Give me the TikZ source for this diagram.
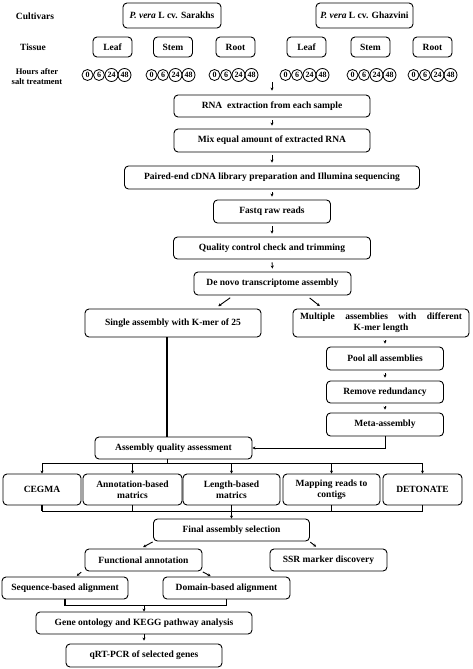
\documentclass[tikz,border=0pt]{standalone}
\usepackage{fontspec}
\setmainfont{Liberation Serif}
\usetikzlibrary{arrows.meta,calc}
\begin{document}
\begin{tikzpicture}[x=1pt,y=-1pt,
 box/.style={draw, rounded corners=4pt, line width=0.9pt, align=center, inner sep=1pt, font=\bfseries\fontsize{9.5}{11}\selectfont},
 lbl/.style={align=center, font=\bfseries\fontsize{9.5}{10.5}\selectfont},
 num/.style={draw, circle, line width=0.8pt, inner sep=0pt, font=\bfseries\fontsize{8}{8}\selectfont},
 arr/.style={line width=0.9pt, -{Stealth[length=3pt,width=3pt]}},
 ln/.style={line width=1.1pt},
 sh/.style={shorten <=3pt, shorten >=3pt}]
\useasboundingbox (0,0) rectangle (472,669);

% header labels
\node[lbl] (lcult) at (35,16) {Cultivars};
\node[lbl] (ltis) at (33,47) {Tissue};
\node[lbl, font=\bfseries\fontsize{8.5}{10}\selectfont] (lhrs) at (37,77) {Hours after\\salt treatment};

% cultivars
\node[box, minimum width=98pt, minimum height=25pt] (sar) at (172,15.5) {\textit{P. vera} L cv. Sarakhs};
\node[box, minimum width=97pt, minimum height=25pt] (gha) at (364.5,15.5) {\textit{P. vera} L cv. Ghazvini};

% tissues
\foreach \n/\x/\t in {leafa/112.5/Leaf, stema/173/Stem, roota/235.5/Root, leafb/306.5/Leaf, stemb/370.5/Stem, rootb/432.5/Root}
  \node[box, minimum width=39pt, minimum height=20pt] (\n) at (\x,47) {\t};

% hour circles
\foreach \g/\s in {a/82,b/146,c/209,d/280,e/347,f/408}{
  \node[num, minimum size=11pt] (\g0) at ({\s+5.5},75) {0};
  \node[num, minimum size=11pt] (\g6) at ({\s+17},75) {6};
  \node[num, minimum size=13pt] (\g24) at ({\s+29.5},75) {24};
  \node[num, minimum size=13pt] (\g48) at ({\s+42.5},75) {48};
}

% main chain
\node[box, minimum width=196pt, minimum height=22pt] (rna) at (272,106) {RNA\ \ extraction from each sample};
\node[box, minimum width=196pt, minimum height=23pt] (mix) at (272,140.5) {Mix equal amount of extracted RNA};
\node[box, minimum width=295pt, minimum height=23pt] (paired) at (272,177.5) {Paired-end cDNA library preparation and Illumina sequencing};
\node[box, minimum width=117pt, minimum height=23pt] (fastq) at (272,211.5) {Fastq raw reads};
\node[box, minimum width=197pt, minimum height=22pt] (qc) at (272,248) {Quality control check and trimming};
\node[box, minimum width=157pt, minimum height=23pt] (denovo) at (272.5,283.5) {De novo transcriptome assembly};

\node[box, minimum width=176pt, minimum height=28pt] (single) at (173,323) {Single assembly with K-mer of 25};
\node[box, minimum width=176pt, minimum height=28pt] (multi) at (381,323) {\makebox[162pt][s]{Multiple assemblies with different}\\K-mer length};
\node[box, minimum width=117pt, minimum height=23pt] (pool) at (385,358.5) {Pool all assemblies};
\node[box, minimum width=117pt, minimum height=22pt] (remove) at (385,392) {Remove redundancy};
\node[box, minimum width=117pt, minimum height=23pt] (meta) at (385,424.5) {Meta-assembly};
\node[box, minimum width=157pt, minimum height=22pt] (aqa) at (173.5,448) {Assembly quality assessment};

\node[box, minimum width=78pt, minimum height=31pt] (cegma) at (42,489.5) {CEGMA};
\node[box, minimum width=99pt, minimum height=31pt] (annot) at (132.5,489.5) {Annotation-based\\matrics};
\node[box, minimum width=97pt, minimum height=31pt] (length) at (231.5,489.5) {Length-based\\matrics};
\node[box, minimum width=97pt, minimum height=31pt] (mapping) at (331.5,489.5) {Mapping reads to\\contigs};
\node[box, minimum width=79pt, minimum height=31pt] (detonate) at (422.5,489.5) {DETONATE};

\node[box, minimum width=156pt, minimum height=22pt] (final) at (231.5,530) {Final assembly selection};
\node[box, minimum width=117pt, minimum height=22pt] (func) at (143.5,560) {Functional annotation};
\node[box, minimum width=117pt, minimum height=22pt] (ssr) at (328.5,560) {SSR marker discovery};
\node[box, minimum width=126pt, minimum height=22pt] (seq) at (65,588) {Sequence-based alignment};
\node[box, minimum width=127pt, minimum height=22pt] (domain) at (226.5,588) {Domain-based alignment};
\node[box, minimum width=216pt, minimum height=22pt] (gene) at (144,623) {Gene ontology and KEGG pathway analysis};
\node[box, minimum width=156pt, minimum height=23pt] (qrt) at (144,655.5) {qRT-PCR of selected genes};

% connectors
\coordinate (hrs) at (272,82);
\draw[arr, shorten >=4pt] (hrs) -- (rna.north);
\draw[arr, sh] (rna.south) -- (mix.north);
\draw[arr, sh] (mix.south) -- (paired.north);
\draw[arr, sh] (paired.south) -- (fastq.north);
\draw[arr, sh] (fastq.south) -- (qc.north);
\draw[arr, sh] (qc.south) -- (denovo.north);

\draw[arr, shorten <=4pt, shorten >=4pt] ([xshift=-39pt]denovo.south) -- ([xshift=42pt]single.north);
\draw[arr, shorten <=4pt, shorten >=4pt] ([xshift=34pt]denovo.south) -- ([xshift=-58pt]multi.north);

\draw[arr, sh] (multi.south -| pool.north) -- (pool.north);
\draw[arr, sh] (pool.south) -- (remove.north);
\draw[arr, sh] (remove.south) -- (meta.north);
\draw[arr] (meta.south) |- (aqa.east);
\draw[ln] ([xshift=-6pt]single.south) -- ([xshift=-6pt]single.south |- aqa.north);

\draw[ln] ([xshift=-6pt]aqa.south) -- ++(0,4) coordinate (b1);
\draw[ln] (cegma.north |- b1) -- (detonate.north |- b1);
\foreach \n in {cegma,annot,length,mapping,detonate}
  \draw[arr] (\n.north |- b1) -- (\n.north);

\path (length.south) ++(0,6) coordinate (b2);
\foreach \n in {cegma,annot,length,mapping,detonate}
  \draw[ln] (\n.south) -- (\n.south |- b2);
\draw[ln] (cegma.south |- b2) -- (detonate.south |- b2);
\draw[arr] (final.north |- b2) -- (final.north);

\draw[arr, shorten <=1pt, shorten >=3pt] ([xshift=-78pt]final.south) -- ([xshift=-3pt]func.north);
\draw[arr, shorten <=1pt, shorten >=3pt] ([xshift=78pt]final.south) -- ([xshift=-10pt]ssr.north);
\draw[arr, shorten <=1pt, shorten >=1pt] ([xshift=-61.5pt]func.south) -- ([xshift=11pt]seq.north);
\draw[arr, shorten <=1pt, shorten >=1pt] ([xshift=58.5pt]func.south) -- ([xshift=-15pt]domain.north);

\draw[ln] (seq.south) -- ++(0,6) coordinate (b3) -| (domain.south);
\draw[arr] (gene.north |- b3) -- (gene.north);
\draw[arr, shorten >=3pt] (gene.south) -- (qrt.north);
\end{tikzpicture}
\end{document}
